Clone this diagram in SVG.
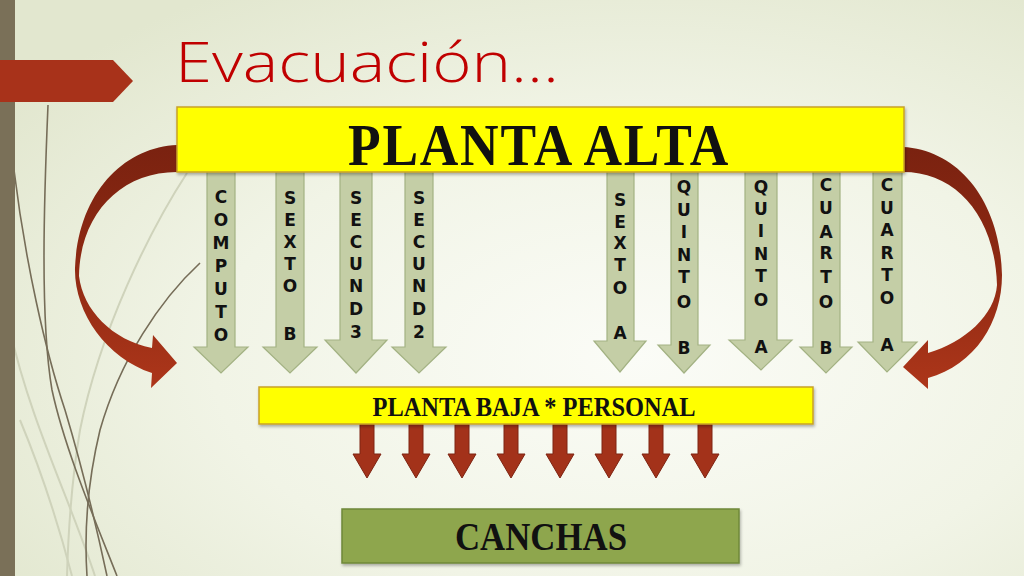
<svg xmlns="http://www.w3.org/2000/svg" width="1024" height="576" viewBox="0 0 1024 576">
<defs>
<radialGradient id="bg" cx="0.62" cy="0.62" r="0.75">
<stop offset="0" stop-color="#fbfcf7"/>
<stop offset="0.55" stop-color="#f1f4e6"/>
<stop offset="1" stop-color="#e2e7cf"/>
</radialGradient>
<linearGradient id="curve" x1="0" y1="0" x2="0" y2="1">
<stop offset="0" stop-color="#7a2210"/>
<stop offset="0.45" stop-color="#8c2812"/>
<stop offset="1" stop-color="#ad361a"/>
</linearGradient>
<filter id="sh" x="-5%" y="-20%" width="110%" height="150%">
<feDropShadow dx="1" dy="2" stdDeviation="1.5" flood-color="#000" flood-opacity="0.3"/>
</filter>
</defs>
<style>
.ga{fill:#c4cea6;stroke:#a3b283;stroke-width:1.2}
.ra{fill:#a3321a;stroke:#7e2412;stroke-width:1}
.gl{font-family:"DejaVu Sans","Liberation Sans",sans-serif;font-weight:bold;font-size:17px;fill:#111;text-anchor:middle}
.deco{font-family:"Liberation Serif","DejaVu Serif",serif;font-weight:bold;fill:#111;text-anchor:middle}
.ybox{fill:#ffff00;stroke:#c9a227;stroke-width:1.5}
.line{fill:none;stroke:#766d58;stroke-width:1.6}
.lt{fill:none;stroke:#cfd3bb;stroke-width:2}
</style>
<rect width="1024" height="576" fill="url(#bg)"/>
<g id="decor">
<path class="lt" d="M10,330 C30,420 70,500 95,576"/>
<path class="lt" d="M187,173 C150,230 100,330 80,430 C70,490 68,540 67,576"/>
<path class="lt" d="M20,420 C45,480 60,530 72,576"/>
<path class="line" d="M48,105 C44,200 40,320 52,390 C65,450 95,520 117,576"/>
<path class="line" d="M14,170 C25,260 45,350 65,410 C80,460 95,520 107,576"/>
<path class="line" stroke-width="1" d="M200,263 C160,300 120,360 100,430 C88,480 84,530 87,576"/>
<rect x="0" y="0" width="15" height="576" fill="#7a7058"/>
<polygon points="0,60 113,60 133,81 113,102 0,102" fill="#a8321a"/>
</g>
<g id="title">
<text x="175" y="82" font-family="'Open Sans','DejaVu Sans',sans-serif" font-weight="300" font-size="56" fill="#c00000" textLength="384" lengthAdjust="spacingAndGlyphs">Evacuación...</text>
</g>
<g id="connectors">
<path fill="url(#curve)" d="M177,145 C125,147 78,192 75,268 C74,312 106,358 152,373 L151,388 L177,363 L153,335 L152,348 C112,340 83,310 79,276 C80,215 120,172 177,172 Z"/>
<path fill="url(#curve)" d="M903,147 C958,150 1000,200 1002,275 C1002,322 975,365 928,378 L928,389 L903,367 L928,340 L928,353 C965,342 995,315 997,285 C995,216 956,172 903,172 Z"/>
<path class="ga" d="M207,170 L235,170 L235,347 L248,347 L221,373 L194,347 L207,347 Z"/>
<path class="ga" d="M276,170 L304,170 L304,347 L317,347 L290,373 L263,347 L276,347 Z"/>
<path class="ga" d="M340,170 L372,170 L372,340 L387,340 L356,373 L325,340 L340,340 Z"/>
<path class="ga" d="M405,170 L433,170 L433,347 L446,347 L419,373 L392,347 L405,347 Z"/>
<path class="ga" d="M607,170 L634,170 L634,341 L646,341 L620,372 L594,341 L607,341 Z"/>
<path class="ga" d="M671,170 L698,170 L698,345 L710,345 L684,373 L658,345 L671,345 Z"/>
<path class="ga" d="M745,170 L777,170 L777,340 L792,340 L761,370 L729,340 L745,340 Z"/>
<path class="ga" d="M813,170 L840,170 L840,347 L852,347 L826,373 L800,347 L813,347 Z"/>
<path class="ga" d="M873,170 L902,170 L902,342 L917,342 L887,372 L858,342 L873,342 Z"/>
<path class="ra" d="M360,424 L374,424 L374,454 L381,454 L367,478 L353,454 L360,454 Z"/>
<path class="ra" d="M409,424 L423,424 L423,454 L430,454 L416,478 L402,454 L409,454 Z"/>
<path class="ra" d="M455,424 L469,424 L469,454 L476,454 L462,478 L448,454 L455,454 Z"/>
<path class="ra" d="M504,424 L518,424 L518,454 L525,454 L511,478 L497,454 L504,454 Z"/>
<path class="ra" d="M553,424 L567,424 L567,454 L574,454 L560,478 L546,454 L553,454 Z"/>
<path class="ra" d="M602,424 L616,424 L616,454 L623,454 L609,478 L595,454 L602,454 Z"/>
<path class="ra" d="M649,424 L663,424 L663,454 L670,454 L656,478 L642,454 L649,454 Z"/>
<path class="ra" d="M698,424 L712,424 L712,454 L719,454 L705,478 L691,454 L698,454 Z"/>
</g>
<g id="labels">
<text class="gl"><tspan x="221" y="203">C</tspan><tspan x="221" y="226">O</tspan><tspan x="221" y="249">M</tspan><tspan x="221" y="272">P</tspan><tspan x="221" y="295">U</tspan><tspan x="221" y="318">T</tspan><tspan x="221" y="341">O</tspan></text>
<text class="gl"><tspan x="290" y="204">S</tspan><tspan x="290" y="226">E</tspan><tspan x="290" y="248">X</tspan><tspan x="290" y="270">T</tspan><tspan x="290" y="292">O</tspan><tspan x="290" y="340">B</tspan></text>
<text class="gl"><tspan x="356" y="204">S</tspan><tspan x="356" y="226">E</tspan><tspan x="356" y="248">C</tspan><tspan x="356" y="270">U</tspan><tspan x="356" y="292">N</tspan><tspan x="356" y="315">D</tspan><tspan x="356" y="338">3</tspan></text>
<text class="gl"><tspan x="419" y="204">S</tspan><tspan x="419" y="226">E</tspan><tspan x="419" y="248">C</tspan><tspan x="419" y="270">U</tspan><tspan x="419" y="292">N</tspan><tspan x="419" y="315">D</tspan><tspan x="419" y="338">2</tspan></text>
<text class="gl"><tspan x="620" y="206">S</tspan><tspan x="620" y="228">E</tspan><tspan x="620" y="249">X</tspan><tspan x="620" y="271">T</tspan><tspan x="620" y="294">O</tspan><tspan x="620" y="339">A</tspan></text>
<text class="gl"><tspan x="684" y="193">Q</tspan><tspan x="684" y="216">U</tspan><tspan x="684" y="238">I</tspan><tspan x="684" y="261">N</tspan><tspan x="684" y="283">T</tspan><tspan x="684" y="308">O</tspan><tspan x="684" y="354">B</tspan></text>
<text class="gl"><tspan x="761" y="193">Q</tspan><tspan x="761" y="215">U</tspan><tspan x="761" y="237">I</tspan><tspan x="761" y="260">N</tspan><tspan x="761" y="282">T</tspan><tspan x="761" y="306">O</tspan><tspan x="761" y="353">A</tspan></text>
<text class="gl"><tspan x="826" y="191">C</tspan><tspan x="826" y="214">U</tspan><tspan x="826" y="238">A</tspan><tspan x="826" y="259">R</tspan><tspan x="826" y="283">T</tspan><tspan x="826" y="308">O</tspan><tspan x="826" y="354">B</tspan></text>
<text class="gl"><tspan x="887" y="191">C</tspan><tspan x="887" y="214">U</tspan><tspan x="887" y="236">A</tspan><tspan x="887" y="259">R</tspan><tspan x="887" y="281">T</tspan><tspan x="887" y="304">O</tspan><tspan x="887" y="351">A</tspan></text>
</g>
<g id="planta-alta">
<rect class="ybox" x="177" y="107" width="727" height="65" filter="url(#sh)"/>
<text class="deco" x="539" y="165" font-size="60" letter-spacing="2" textLength="382" lengthAdjust="spacingAndGlyphs">PLANTA ALTA</text>
</g>
<g id="planta-baja">
<rect class="ybox" x="259" y="387" width="554" height="37" filter="url(#sh)"/>
<text class="deco" x="534" y="416" font-size="28" textLength="323" lengthAdjust="spacingAndGlyphs">PLANTA BAJA * PERSONAL</text>
</g>
<g id="canchas">
<rect x="342" y="509" width="397" height="54" fill="#8ea64e" stroke="#6f883a" stroke-width="1.5" filter="url(#sh)"/>
<text class="deco" x="541" y="550" font-size="40" textLength="172" lengthAdjust="spacingAndGlyphs">CANCHAS</text>
</g>
</svg>
